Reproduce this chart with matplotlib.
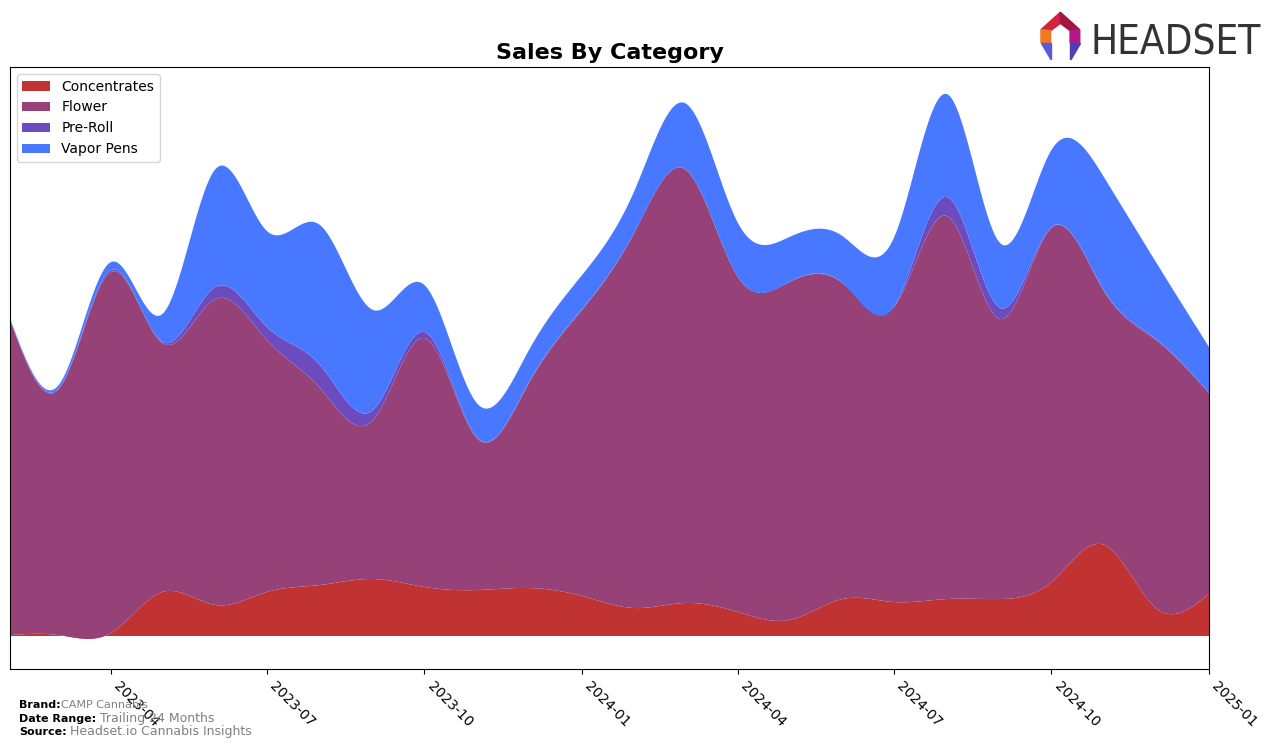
#!/usr/bin/env python

import numpy as np
import pandas as pd
import matplotlib
matplotlib.use("Agg")
import matplotlib.pyplot as plt
import matplotlib.dates as mdates
from matplotlib.patches import Polygon


months = pd.date_range("2023-02-01", "2025-01-01", freq="MS")

# monthly sales per category (arbitrary units)
concentrates = [1, 1, 3, 44, 31, 44, 51, 57, 49, 46, 48, 40,
                28, 33, 24, 16, 37, 34, 37, 37, 54, 91, 28, 42]
flower = [315, 245, 361, 249, 306, 252, 197, 159, 249, 151, 205, 286,
          377, 434, 335, 338, 316, 295, 383, 280, 354, 253, 268, 201]
pre_roll = [1, 1, 2, 1, 12, 13, 23, 10, 6, 1, 1, 1,
            0, 0, 0, 0, 0, 0, 19, 11, 1, 1, 1, 0]
vapor_pens = [1, 3, 8, 28, 118, 96, 140, 100, 47, 34, 32, 34,
              42, 66, 54, 45, 47, 69, 103, 65, 77, 113, 77, 46]

labels = ["Concentrates", "Flower", "Pre-Roll", "Vapor Pens"]
colors = ["#c13333", "#964278", "#6c4bbe", "#4878ff"]


def smooth(x, y, xs):
    # natural cubic spline, only used to draw the curves smoothly
    x = np.asarray(x, float)
    y = np.asarray(y, float)
    n = len(x)
    h = np.diff(x)
    A = np.zeros((n, n))
    b = np.zeros(n)
    A[0, 0] = A[-1, -1] = 1
    for i in range(1, n - 1):
        A[i, i - 1] = h[i - 1]
        A[i, i] = 2 * (h[i - 1] + h[i])
        A[i, i + 1] = h[i]
        b[i] = 3 * ((y[i + 1] - y[i]) / h[i] - (y[i] - y[i - 1]) / h[i - 1])
    c = np.linalg.solve(A, b)
    bb = (y[1:] - y[:-1]) / h - h * (2 * c[:-1] + c[1:]) / 3
    d = (c[1:] - c[:-1]) / (3 * h)
    idx = np.clip(np.searchsorted(x, xs) - 1, 0, n - 2)
    t = xs - x[idx]
    return y[idx] + bb[idx] * t + c[idx] * t ** 2 + d[idx] * t ** 3


xnum = mdates.date2num(months)
xs = np.linspace(xnum[0], xnum[-1], 600)
series = [smooth(xnum, s, xs) for s in [concentrates, flower, pre_roll, vapor_pens]]

fig = plt.figure(figsize=(12.76, 7.48), dpi=100)
ax = fig.add_axes([0.0078, 0.1056, 0.9397, 0.8048])

ax.stackplot(xs, *series, labels=labels, colors=colors)
ax.set_xlim(xnum[0], xnum[-1])
ax.set_ylim(-33, 569)
ax.set_yticks([])

ax.xaxis.set_major_locator(mdates.MonthLocator(bymonth=[1, 4, 7, 10]))
ax.xaxis.set_major_formatter(mdates.DateFormatter("%Y-%m"))
for lab in ax.get_xticklabels():
    lab.set_rotation(-45)
    lab.set_ha("left")
ax.tick_params(axis="x", labelsize=10)

ax.set_title("Sales By Category", fontsize=16, fontweight="bold", pad=6)
ax.legend(loc="upper left", fontsize=10)

# footer
fig.text(0.015, 0.053, "Brand:", fontsize=8, fontweight="bold")
fig.text(0.048, 0.053, "CAMP Cannabis", fontsize=8, color="gray")
fig.text(0.015, 0.035, "Date Range:", fontsize=8, fontweight="bold")
fig.text(0.078, 0.035, "Trailing 24 Months", fontsize=9, color="gray")
fig.text(0.015, 0.017, "Source:", fontsize=8, fontweight="bold")
fig.text(0.055, 0.017, "Headset.io Cannabis Insights", fontsize=9, color="gray")

# logo
fig.text(0.988, 0.927, "HEADSET", fontsize=29, color="#333333", ha="right",
         family="DejaVu Sans", fontstretch="condensed")
lax = fig.add_axes([0.812, 0.92, 0.038, 0.065])
lax.set_xlim(0, 1)
lax.set_ylim(0, 1)
lax.axis("off")
pieces = [
    ([(0.1, 0.62), (0.5, 0.98), (0.5, 0.75), (0.3, 0.6)], "#d4213d"),
    ([(0.5, 0.98), (0.9, 0.62), (0.7, 0.6), (0.5, 0.75)], "#a0173f"),
    ([(0.1, 0.62), (0.3, 0.6), (0.3, 0.35), (0.1, 0.35)], "#f07a22"),
    ([(0.9, 0.62), (0.7, 0.6), (0.7, 0.35), (0.9, 0.35)], "#b5178a"),
    ([(0.1, 0.35), (0.3, 0.35), (0.3, 0.0)], "#5a5ad8"),
    ([(0.9, 0.35), (0.7, 0.35), (0.7, 0.0)], "#4a3fb8"),
]
for pts, col in pieces:
    lax.add_patch(Polygon(pts, closed=True, color=col))

fig.savefig("out.png", dpi=100)
